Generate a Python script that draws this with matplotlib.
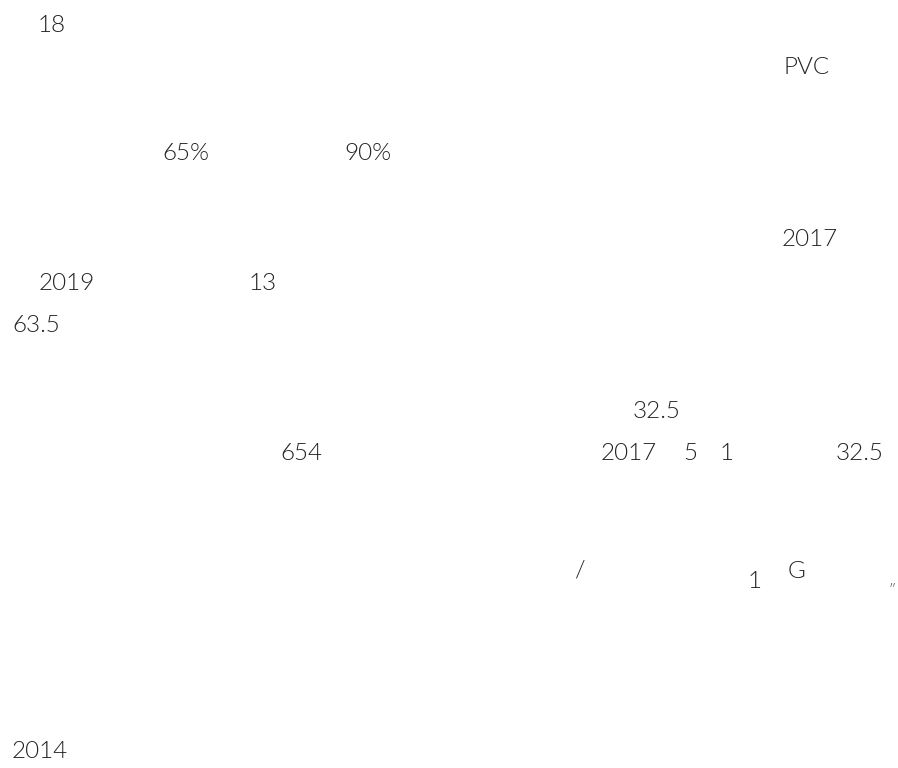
"""
Scattered text fragments on a blank page (CJK glyphs missing in the source render).
Each fragment is placed at its pixel position on an 898x768 canvas.
"""

import matplotlib
matplotlib.use("Agg")
import matplotlib.pyplot as plt

# text fragments and their left-edge x / centre y in pixels
labels = ["18", "PVC", "65%", "90%", "2017", "2019", "13", "63.5",
          "32.5", "654", "2017", "5", "1", "32.5", "/", "1", "G", "\u2033", "2014"]
x_px = [38, 783, 162, 344, 782, 39, 249, 12,
        633, 280, 601, 683, 720, 836, 574, 748, 788, 889, 12]
y_px = [26, 68, 154, 154, 239, 283, 283, 326,
        412, 454, 454, 454, 454, 454, 570, 582, 571, 590, 751]
sizes = [17.5] * len(labels)
sizes[labels.index("\u2033")] = 10

W, H = 898, 768

plt.rcParams["font.family"] = ["Lato", "Noto Sans CJK SC", "DejaVu Sans"]

fig = plt.figure(figsize=(W / 100, H / 100), dpi=100)
ax = fig.add_axes([0, 0, 1, 1])
ax.set_xlim(0, W)
ax.set_ylim(H, 0)
ax.axis("off")

for lab, x, y, s in zip(labels, x_px, y_px, sizes):
    ax.text(x, y, lab, fontsize=s, color="#222222", ha="left", va="center",
            fontweight=300)

fig.savefig("out.png", dpi=100, facecolor="white")
